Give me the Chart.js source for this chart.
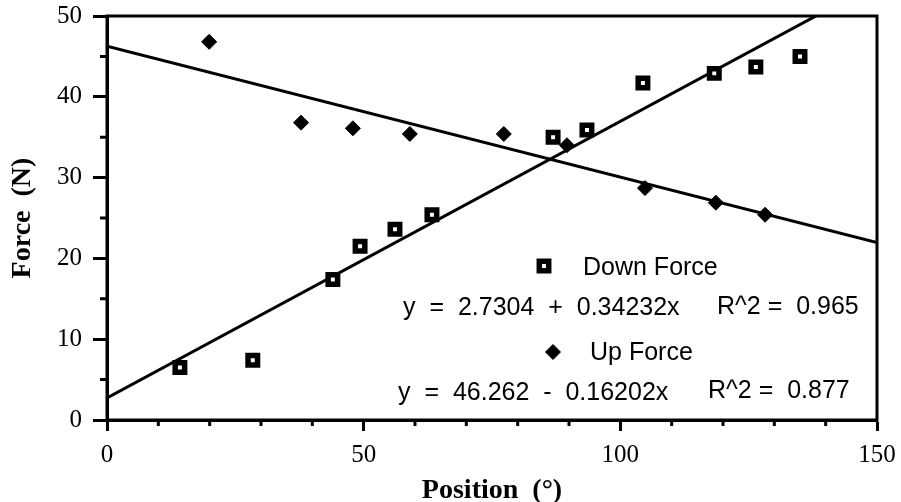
<!DOCTYPE html>
<html>
<head>
<meta charset="utf-8">
<script src="https://cdn.jsdelivr.net/npm/chart.js@4.4.1/dist/chart.umd.min.js"></script>
<style>
  body { margin: 0; background: #fff; }
</style>
</head>
<body>
<canvas id="myChart" width="901" height="502"></canvas>
<script>
// down force readings: position (deg) / force (N)
var downPos   = [14.2, 28.4, 44.0, 49.3, 56.1, 63.3, 86.9, 93.5, 104.4, 118.3, 126.4, 135.0];
var downForce = [6.5, 7.4, 17.4, 21.5, 23.6, 25.4, 35.0, 35.9, 41.7, 42.9, 43.7, 45.0];

// up force readings
var upPos   = [19.9, 37.8, 47.9, 59.0, 77.3, 89.6, 104.8, 118.6, 128.2];
var upForce = [46.8, 36.8, 36.1, 35.4, 35.4, 34.0, 28.7, 26.9, 25.4];

// linear fits: [intercept, slope]
var downFit = [2.7304, 0.34232];
var upFit   = [46.262, -0.16202];
var downR2 = 0.965;
var upR2   = 0.877;

var fitRange = [0, 150];
var xTicks = [0, 50, 100, 150];
var yTicks = [0, 10, 20, 30, 40, 50];
var xMinor = [10, 20, 30, 40, 60, 70, 80, 90, 110, 120, 130, 140];
var yMinor = [5, 15, 25, 35, 45];

function points(xs, ys) {
  var out = [];
  for (var i = 0; i < xs.length; i++) out.push({x: xs[i], y: ys[i]});
  return out;
}

function fitLine(fit) {
  return fitRange.map(function (x) { return {x: x, y: fit[0] + fit[1] * x}; });
}

function eqText(fit) {
  var sign = fit[1] < 0 ? '  -  ' : '  +  ';
  return 'y  =  ' + fit[0] + sign + Math.abs(fit[1]) + 'x';
}

// frame on top/right plus the short in-between ticks
var frameAndMinor = {
  id: 'frameAndMinor',
  afterDraw: function (chart) {
    var ctx = chart.ctx, a = chart.chartArea;
    var xs = chart.scales.x, ys = chart.scales.y;
    ctx.save();
    ctx.strokeStyle = '#000';
    ctx.lineWidth = 3;
    ctx.strokeRect(a.left, a.top, a.right - a.left, a.bottom - a.top);
    ctx.beginPath();
    xMinor.forEach(function (v) {
      var px = xs.getPixelForValue(v);
      ctx.moveTo(px, a.bottom);
      ctx.lineTo(px, a.bottom + 6);
    });
    yMinor.forEach(function (v) {
      var py = ys.getPixelForValue(v);
      ctx.moveTo(a.left - 7, py);
      ctx.lineTo(a.left, py);
    });
    ctx.stroke();
    ctx.restore();
  }
};

// legend with the fit equations
var fitLegend = {
  id: 'fitLegend',
  afterDraw: function (chart) {
    var ctx = chart.ctx;
    ctx.save();
    // square marker
    ctx.fillStyle = '#fff';
    ctx.strokeStyle = '#000';
    ctx.lineWidth = 5.5;
    ctx.beginPath();
    ctx.rect(544 - 4.7, 266 - 4.7, 9.4, 9.4);
    ctx.fill();
    ctx.stroke();
    // diamond marker
    ctx.fillStyle = '#000';
    ctx.lineWidth = 1;
    ctx.beginPath();
    ctx.moveTo(553 - 7.5, 352);
    ctx.lineTo(553, 352 - 7.5);
    ctx.lineTo(553 + 7.5, 352);
    ctx.lineTo(553, 352 + 7.5);
    ctx.closePath();
    ctx.fill();
    ctx.stroke();

    ctx.font = '25px "Liberation Sans", Arial, sans-serif';
    ctx.textAlign = 'left';
    ctx.textBaseline = 'alphabetic';
    ctx.fillText('Down Force', 583, 275);
    ctx.fillText(eqText(downFit), 403, 315);
    ctx.fillText('R^2 =  ' + downR2, 717, 314);
    ctx.fillText('Up Force', 590, 360);
    ctx.fillText(eqText(upFit), 398, 400);
    ctx.fillText('R^2 =  ' + upR2, 708, 398);
    ctx.restore();
  }
};

var tickFont = {family: '"Liberation Serif", "Times New Roman", serif', size: 25};
var titleFont = {family: '"Liberation Serif", "Times New Roman", serif', size: 28, weight: 'bold'};

var ctx = document.getElementById('myChart').getContext('2d');
var chart = new Chart(ctx, {
  type: 'scatter',
  data: {
    datasets: [
      {
        label: 'Down Force',
        data: points(downPos, downForce),
        pointStyle: 'rect',
        pointRadius: 6.7,
        pointBorderWidth: 5.5,
        pointBackgroundColor: '#fff',
        pointBorderColor: '#000',
        order: 1
      },
      {
        label: 'Up Force',
        data: points(upPos, upForce),
        pointStyle: 'rectRot',
        pointRadius: 7.5,
        pointBorderWidth: 1,
        pointBackgroundColor: '#000',
        pointBorderColor: '#000',
        order: 1
      },
      {
        label: 'Down fit',
        data: fitLine(downFit),
        showLine: true,
        borderColor: '#000',
        borderWidth: 3,
        pointRadius: 0,
        order: 2
      },
      {
        label: 'Up fit',
        data: fitLine(upFit),
        showLine: true,
        borderColor: '#000',
        borderWidth: 3,
        pointRadius: 0,
        order: 2
      }
    ]
  },
  options: {
    responsive: false,
    animation: false,
    events: [],
    layout: { padding: {top: 16, right: 24, left: 0, bottom: 0} },
    plugins: {
      legend: { display: false },
      tooltip: { enabled: false }
    },
    scales: {
      x: {
        type: 'linear',
        min: 0,
        max: 150,
        afterBuildTicks: function (s) { s.ticks = xTicks.map(function (v) { return {value: v}; }); },
        afterFit: function (s) { s.height = 82; s.paddingLeft = 0; s.paddingRight = 0; },
        ticks: { font: tickFont, color: '#000', padding: 9, maxRotation: 0, autoSkip: false },
        grid: { drawOnChartArea: false, tickLength: 11, tickWidth: 3, tickColor: '#000' },
        border: { color: '#000', width: 3 },
        title: {
          display: true,
          text: 'Position  (°)',
          color: '#000',
          font: Object.assign({lineHeight: 0.8}, titleFont),
          padding: 0
        }
      },
      y: {
        type: 'linear',
        min: 0,
        max: 50,
        afterBuildTicks: function (s) { s.ticks = yTicks.map(function (v) { return {value: v}; }); },
        afterFit: function (s) { s.width = 107; s.paddingTop = 0; s.paddingBottom = 0; },
        ticks: { font: tickFont, color: '#000', padding: 11 },
        grid: { drawOnChartArea: false, tickLength: 14, tickWidth: 3, tickColor: '#000' },
        border: { color: '#000', width: 3 },
        title: {
          display: true,
          text: 'Force  (N)',
          color: '#000',
          font: Object.assign({lineHeight: 1.2}, titleFont),
          padding: {top: 6, bottom: 0}
        }
      }
    }
  },
  plugins: [frameAndMinor, fitLegend]
});
</script>
</body>
</html>
